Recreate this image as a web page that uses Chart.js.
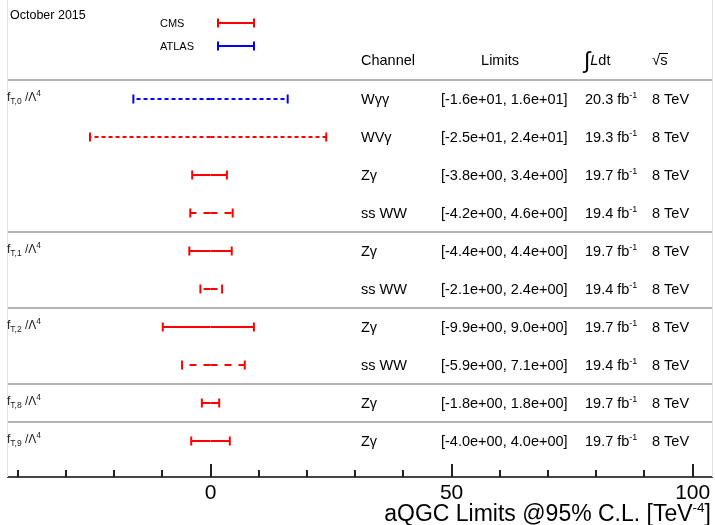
<!DOCTYPE html>
<html lang="en">
<head>
<meta charset="UTF-8">
<title>aQGC Limits</title>
<script src="https://cdn.jsdelivr.net/npm/chart.js@4.4.1/dist/chart.umd.min.js"></script>
<style>
    html, body { margin: 0; padding: 0; background: #fff; }
    #wrap { width: 715px; height: 525px; position: relative; }
</style>
</head>
<body>
<div id="wrap"><canvas id="limitsChart"></canvas></div>
<script>
// one entry per row, top to bottom
const operators   = ['T,0', 'T,0', 'T,0', 'T,0', 'T,1', 'T,1', 'T,2', 'T,2', 'T,8', 'T,9'];
const experiments = ['ATLAS', 'CMS', 'CMS', 'CMS', 'CMS', 'CMS', 'CMS', 'CMS', 'CMS', 'CMS'];
const channels    = ['Wγγ', 'WVγ', 'Zγ', 'ss WW', 'Zγ', 'ss WW', 'Zγ', 'ss WW', 'Zγ', 'Zγ'];
const lowerLimits = [-16, -25, -3.8, -4.2, -4.4, -2.1, -9.9, -5.9, -1.8, -4.0];
const upperLimits = [16, 24, 3.4, 4.6, 4.4, 2.4, 9.0, 7.1, 1.8, 4.0];
const limitTexts  = ['[-1.6e+01, 1.6e+01]', '[-2.5e+01, 2.4e+01]', '[-3.8e+00, 3.4e+00]', '[-4.2e+00, 4.6e+00]',
                     '[-4.4e+00, 4.4e+00]', '[-2.1e+00, 2.4e+00]', '[-9.9e+00, 9.0e+00]', '[-5.9e+00, 7.1e+00]',
                     '[-1.8e+00, 1.8e+00]', '[-4.0e+00, 4.0e+00]'];
const lumis       = ['20.3', '19.3', '19.7', '19.4', '19.7', '19.4', '19.7', '19.4', '19.7', '19.7'];
const energies    = ['8 TeV', '8 TeV', '8 TeV', '8 TeV', '8 TeV', '8 TeV', '8 TeV', '8 TeV', '8 TeV', '8 TeV'];
const lineStyles  = ['dotted', 'dotted', 'solid', 'dashed', 'solid', 'dashed', 'solid', 'dashed', 'solid', 'solid'];
const xTickLabels = [0, 50, 100];

const colors = { CMS: '#ff0000', ATLAS: '#0000ff' };
const dashes = { solid: [], dotted: [4, 3], dashed: [7, 7] };
const FONT = '"Liberation Sans", Arial, Helvetica, sans-serif';

// each interval is drawn as two halves going out from zero, cap at the outer end
const datasets = [];
for (let i = 0; i < channels.length; i++) {
    [lowerLimits[i], upperLimits[i]].forEach(function (end) {
        datasets.push({
            data: [{ x: 0, y: i }, { x: end, y: i }],
            showLine: true,
            borderColor: colors[experiments[i]],
            borderWidth: 2,
            borderDash: dashes[lineStyles[i]],
            borderCapStyle: 'butt',
            pointStyle: 'line',
            rotation: 90,
            pointRadius: [0, 4.5],
            pointBorderWidth: 2,
            pointBorderColor: colors[experiments[i]],
            pointBackgroundColor: colors[experiments[i]]
        });
    });
}

function drawRich(ctx, x, y, parts, align) {
    // parts: [text, size, yShift, italic]
    let total = 0;
    parts.forEach(function (p) {
        ctx.font = (p[3] ? 'italic ' : '') + p[1] + 'px ' + FONT;
        total += ctx.measureText(p[0]).width;
    });
    let cx = x;
    if (align === 'right') cx = x - total;
    if (align === 'center') cx = x - total / 2;
    parts.forEach(function (p) {
        ctx.font = (p[3] ? 'italic ' : '') + p[1] + 'px ' + FONT;
        ctx.fillText(p[0], cx, y + (p[2] || 0));
        cx += ctx.measureText(p[0]).width;
    });
}

function capLine(ctx, x1, x2, y, color) {
    ctx.strokeStyle = color;
    ctx.lineWidth = 2;
    ctx.beginPath();
    ctx.moveTo(x1, y); ctx.lineTo(x2, y);
    ctx.moveTo(x1, y - 4.5); ctx.lineTo(x1, y + 4.5);
    ctx.moveTo(x2, y - 4.5); ctx.lineTo(x2, y + 4.5);
    ctx.stroke();
}

const decorations = {
    id: 'decorations',
    beforeDatasetsDraw(chart) {
        const ctx = chart.ctx, area = chart.chartArea, ys = chart.scales.y;
        ctx.save();
        // faint frame
        ctx.strokeStyle = '#e4e4e4';
        ctx.lineWidth = 1;
        ctx.beginPath();
        ctx.moveTo(area.left - 0.5, 0); ctx.lineTo(area.left - 0.5, area.bottom);
        ctx.moveTo(area.right + 0.5, 0); ctx.lineTo(area.right + 0.5, area.bottom);
        ctx.stroke();
        // separators above each operator group
        ctx.strokeStyle = '#b4b4b4';
        ctx.lineWidth = 2;
        ctx.beginPath();
        for (let i = 0; i < operators.length; i++) {
            if (i === 0 || operators[i] !== operators[i - 1]) {
                const y = ys.getPixelForValue(i - 0.5);
                ctx.moveTo(area.left, y); ctx.lineTo(area.right, y);
            }
        }
        ctx.stroke();
        ctx.restore();
    },
    afterDraw(chart) {
        const ctx = chart.ctx, area = chart.chartArea, xs = chart.scales.x, ys = chart.scales.y;
        ctx.save();
        ctx.fillStyle = '#000';
        ctx.textBaseline = 'alphabetic';

        drawRich(ctx, 10, 19, [['October 2015', 12.5]]);

        // legend
        drawRich(ctx, 160, 27, [['CMS', 11]]);
        drawRich(ctx, 160, 50, [['ATLAS', 11]]);
        capLine(ctx, 218, 254, 23, colors.CMS);
        capLine(ctx, 218, 254, 46, colors.ATLAS);

        // table header
        const hy = ys.getPixelForValue(-1) + 4;
        drawRich(ctx, 361, hy, [['Channel', 14.5]]);
        drawRich(ctx, 500, hy, [['Limits', 14.5]], 'center');
        drawRich(ctx, 584, hy + 3, [['∫', 23], ['L', 14.5, -3, true], ['dt', 14.5, -3]]);
        drawRich(ctx, 652, hy, [['√', 15], ['s', 14.5]]);
        ctx.strokeStyle = '#000';
        ctx.lineWidth = 1;
        ctx.beginPath();
        ctx.moveTo(659, hy - 11.5); ctx.lineTo(668, hy - 11.5);
        ctx.stroke();

        for (let i = 0; i < channels.length; i++) {
            const y = ys.getPixelForValue(i) + 5;
            if (i === 0 || operators[i] !== operators[i - 1]) {
                ctx.fillStyle = '#222';
                drawRich(ctx, 7, y - 3, [['f', 12], [operators[i], 8.5, 3], [' /Λ', 12], ['4', 8.5, -5]]);
                ctx.fillStyle = '#000';
            }
            drawRich(ctx, 361, y, [[channels[i], 14.5]]);
            drawRich(ctx, 441, y, [[limitTexts[i], 14.5]]);
            drawRich(ctx, 585, y, [[lumis[i] + ' fb', 14.5], ['-1', 9, -6]]);
            drawRich(ctx, 652, y, [[energies[i], 14.5]]);
        }

        // tick marks pointing into the plot
        ctx.strokeStyle = '#222';
        ctx.lineWidth = 2;
        ctx.beginPath();
        for (let v = -40; v <= 100; v += 10) {
            const px = Math.round(xs.getPixelForValue(v));
            const len = xTickLabels.includes(v) ? 13 : 7;
            ctx.moveTo(px, area.bottom); ctx.lineTo(px, area.bottom - len);
        }
        ctx.stroke();

        // axis title
        drawRich(ctx, 711, 521, [['aQGC Limits @95% C.L. [TeV', 23], ['-4', 13.5, -9], [']', 23]], 'right');
        ctx.restore();
    }
};

new Chart(document.getElementById('limitsChart'), {
    type: 'scatter',
    data: { datasets: datasets },
    options: {
        responsive: true,
        maintainAspectRatio: false,
        animation: false,
        events: [],
        layout: { autoPadding: false, padding: { left: 8, right: 3, top: 0, bottom: 0 } },
        plugins: { legend: { display: false }, tooltip: { enabled: false } },
        scales: {
            x: {
                type: 'linear',
                min: -42,
                max: 104,
                afterFit: function (scale) { scale.height = 48; },
                afterBuildTicks: function (scale) {
                    scale.ticks = xTickLabels.map(function (v) { return { value: v }; });
                },
                grid: { display: false, drawTicks: false },
                border: { display: true, color: '#444', width: 2 },
                ticks: {
                    autoSkip: false,
                    maxRotation: 0,
                    padding: 4,
                    color: '#000',
                    font: { size: 21, family: FONT }
                }
            },
            y: {
                type: 'linear',
                reverse: true,
                min: -2.605,
                max: 9.947,
                display: false
            }
        }
    },
    plugins: [decorations]
});
</script>
</body>
</html>
